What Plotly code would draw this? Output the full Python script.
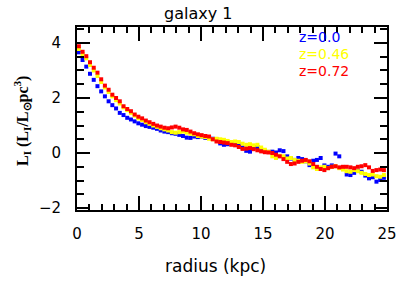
import plotly.graph_objects as go

radius = [0.15, 0.45, 0.75, 1.05, 1.35, 1.65, 1.95, 2.25, 2.55, 2.85,
          3.15, 3.45, 3.75, 4.05, 4.35, 4.65, 4.95, 5.25, 5.55, 5.85,
          6.15, 6.45, 6.75, 7.05, 7.35, 7.65, 7.95, 8.25, 8.55, 8.85,
          9.15, 9.45, 9.75, 10.05, 10.35, 10.65, 10.95, 11.25, 11.55, 11.85,
          12.15, 12.45, 12.75, 13.05, 13.35, 13.65, 13.95, 14.25, 14.55, 14.85,
          15.15, 15.45, 15.75, 16.05, 16.35, 16.65, 16.95, 17.25, 17.55, 17.85,
          18.15, 18.45, 18.75, 19.05, 19.35, 19.65, 19.95, 20.25, 20.55, 20.85,
          21.15, 21.45, 21.75, 22.05, 22.35, 22.65, 22.95, 23.25, 23.55, 23.85,
          24.15, 24.45, 24.75]

lum_z000 = [3.66, 3.38, 3.14, 2.88, 2.66, 2.43, 2.24, 2.06, 1.88, 1.74,
            1.62, 1.46, 1.38, 1.28, 1.22, 1.15, 1.08, 1.03, 0.98, 0.95,
            0.92, 0.88, 0.82, 0.78, 0.76, 0.72, 0.70, 0.66, 0.62, 0.56,
            0.55, 0.60, 0.58, 0.60, 0.55, 0.56, 0.52, 0.50, 0.35, 0.30,
            0.32, 0.38, 0.35, 0.32, 0.20, 0.08, 0.05, 0.20, 0.22, 0.12,
            0.06, 0.04, 0.05, 0.02, 0.10, 0.07, -0.12, -0.20, -0.25, -0.18,
            -0.22, -0.30, -0.44, -0.28, -0.25, -0.18, -0.45, -0.50, -0.45, -0.02,
            -0.12, -0.55, -0.78, -0.80, -0.72, -0.65, -0.68, -0.82, -0.92, -0.88,
            -1.04, -0.98, -0.90]

lum_z046 = [3.78, 3.60, 3.44, 3.20, 3.00, 2.80, 2.58, 2.38, 2.22, 2.06,
            1.92, 1.80, 1.66, 1.56, 1.46, 1.36, 1.26, 1.20, 1.12, 1.06,
            1.00, 0.95, 0.90, 0.86, 0.82, 0.76, 0.74, 0.76, 0.78, 0.74,
            0.70, 0.68, 0.62, 0.60, 0.58, 0.52, 0.50, 0.52, 0.50, 0.48,
            0.44, 0.40, 0.42, 0.40, 0.34, 0.30, 0.32, 0.28, 0.30, 0.20,
            0.12, 0.05, -0.12, -0.18, -0.10, -0.12, -0.20, -0.18, -0.25, -0.28,
            -0.32, -0.30, -0.38, -0.52, -0.58, -0.52, -0.50, -0.55, -0.50, -0.48,
            -0.55, -0.60, -0.66, -0.68, -0.62, -0.66, -0.72, -0.76, -0.80, -0.78,
            -0.84, -0.86, -0.80]

lum_z072 = [3.88, 3.68, 3.52, 3.30, 3.10, 2.92, 2.68, 2.45, 2.30, 2.12,
            2.00, 1.88, 1.70, 1.60, 1.52, 1.40, 1.32, 1.26, 1.18, 1.12,
            1.06, 1.00, 0.96, 0.92, 0.90, 0.93, 0.96, 0.92, 0.86, 0.84,
            0.78, 0.72, 0.68, 0.65, 0.62, 0.60, 0.50, 0.42, 0.40, 0.38,
            0.36, 0.30, 0.28, 0.22, 0.15, 0.16, 0.18, 0.14, 0.10, 0.06,
            0.03, 0.02, 0.00, -0.06, -0.12, -0.22, -0.32, -0.40, -0.38, -0.32,
            -0.28, -0.25, -0.30, -0.40, -0.50, -0.58, -0.62, -0.55, -0.50, -0.48,
            -0.52, -0.50, -0.50, -0.52, -0.55, -0.50, -0.48, -0.44, -0.52, -0.65,
            -0.62, -0.60, -0.62]

series = [("z=0.0", lum_z000, "#0000ff"),
          ("z=0.46", lum_z046, "#ffff00"),
          ("z=0.72", lum_z072, "#ff0000")]

x_ticks = [0, 5, 10, 15, 20, 25]
y_ticks = [-2, 0, 2, 4]

FONT = "DejaVu Sans, Verdana, sans-serif"
L, R, T, B = 77, 22, 27, 72
PW, PH = 409 - L - R, 282 - T - B

fig = go.Figure()
for name, vals, col in series:
    fig.add_trace(go.Scatter(x=radius, y=vals, mode="markers", name=name,
                             marker=dict(symbol="square", size=4, color=col,
                                         line=dict(width=0))))
fig.add_trace(go.Scatter(x=[0], y=[0], xaxis="x2", yaxis="y2", mode="markers",
                         marker=dict(opacity=0), showlegend=False, hoverinfo="skip"))

axis_common = dict(showgrid=False, zeroline=False, showline=True, linecolor="black",
                   linewidth=2, ticks="inside", tickcolor="black", tickwidth=1.5,
                   automargin=False)
xminor = dict(dtick=1, ticklen=6, ticks="inside", tickcolor="black", tickwidth=1.5)
yminor = dict(dtick=0.5, ticklen=7, ticks="inside", tickcolor="black", tickwidth=1.5)

fig.update_layout(
    width=409, height=282,
    margin=dict(l=L, r=R, t=T, b=B, autoexpand=False),
    paper_bgcolor="white", plot_bgcolor="white",
    showlegend=False,
    font=dict(family=FONT, color="black", size=15),
    xaxis=dict(range=[0, 25], tickvals=x_ticks, ticklen=14, minor=xminor,
               ticklabelstandoff=9, tickfont=dict(size=15), **axis_common),
    yaxis=dict(range=[-2.07, 4.58], tickvals=y_ticks, ticklen=13, minor=yminor,
               ticklabelstandoff=11, tickfont=dict(size=15), **axis_common),
    xaxis2=dict(range=[0, 25], overlaying="x", side="top", tickvals=x_ticks, ticklen=14,
                showticklabels=False, minor=xminor, **axis_common),
    yaxis2=dict(range=[-2.07, 4.58], overlaying="y", side="right", tickvals=y_ticks, ticklen=13,
                showticklabels=False, minor=yminor, **axis_common),
)

def px(xp, yp):
    return (xp - L) / PW, (282 - B - yp) / PH

annotations = []
gx, gy = px(198, 14)
annotations.append(dict(text="galaxy 1", x=gx, y=gy, xref="paper", yref="paper",
                        showarrow=False, yanchor="middle", font=dict(size=16, family=FONT)))
rx, ry = px(215, 266)
annotations.append(dict(text="radius (kpc)", x=rx, y=ry, xref="paper", yref="paper",
                        showarrow=False, yanchor="middle", font=dict(size=17, family=FONT)))
lx, ly = px(22, 121)
annotations.append(dict(text="<b>L<sub>I</sub> (L<sub>I</sub>/L<sub>⊙</sub>pc<sup>3</sup>)</b>",
                        x=lx, y=ly, xref="paper", yref="paper", showarrow=False, textangle=-90,
                        xanchor="center", yanchor="middle",
                        font=dict(size=16, family="Liberation Serif, Times New Roman, serif")))
leg_y = [37.5, 54, 70.5]
for (name, vals, col), py in zip(series, leg_y):
    ax, ay = px(297, py)
    annotations.append(dict(text=name, x=ax, y=ay, xref="paper", yref="paper",
                            xanchor="left", yanchor="middle", showarrow=False,
                            font=dict(size=14, color=col, family=FONT)))
fig.update_layout(annotations=annotations)

fig.write_html("out.html", config={"displayModeBar": False},
               post_script="document.body.style.margin='0';document.body.style.padding='0';")
